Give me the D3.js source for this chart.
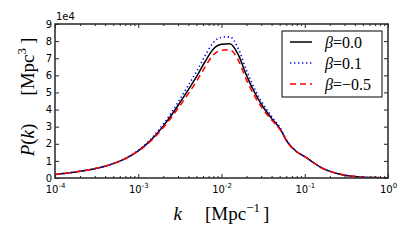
<!DOCTYPE html>
<html>
<head>
<meta charset="utf-8">
<script src="https://cdn.jsdelivr.net/npm/d3@7"></script>
<style>
	body { margin: 0; background: #fff; }
	svg { display: block; }
</style>
</head>
<body>
<div id="main-content"></div>
<script>
'use strict'

// log10 of k [Mpc^-1]
const kExp = [-4.0, -3.9, -3.8, -3.7, -3.6, -3.5, -3.4, -3.3, -3.2, -3.1,
	-3.0, -2.9, -2.8, -2.7, -2.6, -2.5, -2.4, -2.3, -2.2, -2.1,
	-2.0, -1.9, -1.8, -1.7, -1.6, -1.5, -1.4, -1.3, -1.2, -1.1,
	-1.0, -0.9, -0.8, -0.7, -0.6, -0.5, -0.4, -0.3, -0.2, -0.1, 0.0]

// P(k) in units of 1e4 Mpc^3
const pBeta00 = [0.20, 0.26, 0.32, 0.39, 0.47, 0.57, 0.69, 0.84, 1.03, 1.28,
	1.59, 1.98, 2.46, 3.03, 3.68, 4.40, 5.15, 5.92, 6.78, 7.52,
	7.81, 7.84, 7.22, 6.00, 4.97, 4.15, 3.50, 2.90, 2.05, 1.55,
	1.25, 0.92, 0.60, 0.40, 0.25, 0.15, 0.09, 0.05, 0.03, 0.02, 0.01]

const pBeta01 = [0.20, 0.26, 0.32, 0.39, 0.47, 0.57, 0.69, 0.84, 1.03, 1.29,
	1.61, 2.02, 2.53, 3.14, 3.83, 4.60, 5.41, 6.22, 7.12, 7.90,
	8.22, 8.25, 7.58, 6.30, 5.19, 4.32, 3.61, 2.96, 2.07, 1.56,
	1.25, 0.92, 0.60, 0.40, 0.25, 0.15, 0.09, 0.05, 0.03, 0.02, 0.01]

const pBetaM05 = [0.20, 0.26, 0.32, 0.39, 0.47, 0.57, 0.69, 0.84, 1.03, 1.27,
	1.57, 1.94, 2.40, 2.94, 3.55, 4.22, 4.92, 5.65, 6.47, 7.18,
	7.46, 7.49, 6.90, 5.73, 4.77, 4.00, 3.40, 2.84, 2.03, 1.54,
	1.25, 0.92, 0.60, 0.40, 0.25, 0.15, 0.09, 0.05, 0.03, 0.02, 0.01]

const seriesNames = ['0.0', '0.1', '\u22120.5']
const xMajorExp = [-4, -3, -2, -1, 0]
const yTicks = [0, 1, 2, 3, 4, 5, 6, 7, 8, 9]

const width = 411,
		height = 247
const margin = { left: 55, right: 23, top: 24, bottom: 69 }
const plotW = width - margin.left - margin.right,
		plotH = height - margin.top - margin.bottom

const svg = d3.select('#main-content').append('svg')
	.attr('width', width)
	.attr('height', height)

const x = d3.scaleLog().domain([1e-4, 1]).range([0, plotW])
const y = d3.scaleLinear().domain([0, 9]).range([plotH, 0])

const g = svg.append('g')
	.attr('transform', 'translate(' + margin.left + ',' + margin.top + ')')

svg.append('defs').append('clipPath').attr('id', 'clip')
	.append('rect').attr('width', plotW).attr('height', plotH)

const series = [
	{ values: pBeta00, color: '#000', dash: null, width: 1.5 },
	{ values: pBeta01, color: '#0000ff', dash: '1.3,2.7', width: 1.6 },
	{ values: pBetaM05, color: '#ff0000', dash: '6,4', width: 1.5 }
]

const line = d3.line()
	.x((d) => x(Math.pow(10, d[0])))
	.y((d) => y(d[1]))
	.curve(d3.curveMonotoneX)

const lines = g.append('g').attr('clip-path', 'url(#clip)')

series.forEach((s) => {
	lines.append('path')
		.datum(kExp.map((e, i) => [e, s.values[i]]))
		.attr('fill', 'none')
		.attr('stroke', s.color)
		.attr('stroke-width', s.width)
		.attr('stroke-dasharray', s.dash)
		.attr('d', line)
})

// ticks, all pointing inwards
const majorK = xMajorExp.map((e) => Math.pow(10, e))
const minorK = x.ticks().filter((t) => majorK.indexOf(t) < 0)

const styleAxis = (sel) => {
	sel.select('.domain').remove()
	sel.selectAll('line').attr('stroke', '#222').attr('stroke-width', 1)
}

g.append('g').attr('transform', 'translate(0,' + plotH + ')')
	.call(d3.axisBottom(x).tickValues(majorK).tickSize(-4).tickPadding(8).tickFormat(''))
	.call(styleAxis)
	.selectAll('.tick text')
	.attr('font-family', 'DejaVu Sans')
	.attr('font-size', 10)
	.attr('fill', '#000')
	.each(function(d, i) {
		const t = d3.select(this)
		t.append('tspan').text('10')
		t.append('tspan').attr('font-size', 7).attr('dy', -5).text(xMajorExp[i] === 0 ? '0' : String(xMajorExp[i]))
	})

g.append('g').attr('transform', 'translate(0,' + plotH + ')')
	.call(d3.axisBottom(x).tickValues(minorK).tickSize(-2).tickFormat(''))
	.call(styleAxis)

g.append('g')
	.call(d3.axisTop(x).tickValues(majorK).tickSize(-4).tickFormat(''))
	.call(styleAxis)

g.append('g')
	.call(d3.axisTop(x).tickValues(minorK).tickSize(-2).tickFormat(''))
	.call(styleAxis)

g.append('g')
	.call(d3.axisLeft(y).tickValues(yTicks).tickSize(-4).tickPadding(3))
	.call(styleAxis)
	.selectAll('.tick text')
	.attr('font-family', 'DejaVu Sans')
	.attr('font-size', 10)
	.attr('fill', '#000')

g.append('g').attr('transform', 'translate(' + plotW + ',0)')
	.call(d3.axisRight(y).tickValues(yTicks).tickSize(-4).tickFormat(''))
	.call(styleAxis)

// frame
g.append('rect')
	.attr('width', plotW)
	.attr('height', plotH)
	.attr('fill', 'none')
	.attr('stroke', '#333')
	.attr('stroke-width', 1.6)

// offset text
g.append('text')
	.attr('x', 1)
	.attr('y', -4)
	.attr('font-family', 'DejaVu Sans')
	.attr('font-size', 10)
	.text('1e4')

// axis labels
const xl = svg.append('text')
	.attr('x', margin.left + plotW / 2)
	.attr('y', 220)
	.attr('text-anchor', 'middle')
	.attr('font-family', 'Liberation Serif')
	.attr('font-size', 19)
xl.append('tspan').attr('font-style', 'italic').text('k')
xl.append('tspan').attr('dx', 23).text('[Mpc')
xl.append('tspan').attr('font-size', 13).attr('dy', -8).text('\u22121')
xl.append('tspan').attr('dx', 3).attr('dy', 8).text(']')

const yl = svg.append('text')
	.attr('transform', 'translate(34,' + (margin.top + plotH / 2 - 4) + ') rotate(-90)')
	.attr('text-anchor', 'middle')
	.attr('font-family', 'Liberation Serif')
	.attr('font-size', 19)
yl.append('tspan').attr('font-style', 'italic').text('P')
yl.append('tspan').text('(')
yl.append('tspan').attr('font-style', 'italic').text('k')
yl.append('tspan').text(')')
yl.append('tspan').attr('dx', 28).text('[Mpc')
yl.append('tspan').attr('font-size', 13).attr('dy', -8).text('3')
yl.append('tspan').attr('dx', 4).attr('dy', 8).text(']')

// legend
const legend = svg.append('g').attr('transform', 'translate(282,31)')
legend.append('rect')
	.attr('width', 100)
	.attr('height', 66)
	.attr('fill', '#fff')
	.attr('stroke', '#000')
	.attr('stroke-width', 1)

series.forEach((s, i) => {
	const row = legend.append('g').attr('transform', 'translate(0,' + (11 + i * 21) + ')')
	row.append('line')
		.attr('x1', 8).attr('x2', 30)
		.attr('stroke', s.color)
		.attr('stroke-width', s.width)
		.attr('stroke-dasharray', s.dash)
	const t = row.append('text')
		.attr('x', 43)
		.attr('dy', '0.35em')
		.attr('font-family', 'Liberation Serif')
		.attr('font-size', 16)
	t.append('tspan').attr('font-style', 'italic').text('\u03b2')
	t.append('tspan').text('=' + seriesNames[i])
})
</script>
</body>
</html>
